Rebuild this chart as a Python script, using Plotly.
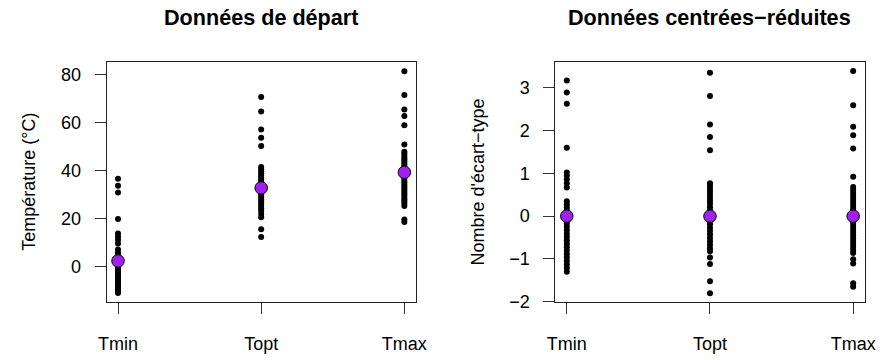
import plotly.graph_objects as go

categories = ["Tmin", "Topt", "Tmax"]

tmin_raw = [36.6, 33.7, 30.9, 19.8, 13.8, 12.5, 11.2, 9.6, 7.2, 5.8, 4.6, 3.6, 2.8, 1.9, 1.0,
            0.2, -0.7, -1.6, -2.4, -3.3, -4.1, -4.9, -5.6, -6.4, -7.1, -7.8, -8.5, -9.1, -9.7,
            -10.3, -11.0]
topt_raw = [70.7, 64.6, 57.1, 53.7, 50.2, 41.5, 40.6, 39.7, 38.8, 37.9, 37.0, 36.1, 35.2, 34.3,
            33.4, 32.5, 31.6, 30.7, 29.8, 28.9, 28.0, 27.1, 26.2, 25.3, 24.2, 23.3, 21.9, 20.6,
            15.6, 12.4]
tmax_raw = [81.4, 71.5, 65.4, 62.7, 58.9, 50.9, 47.9, 47.0, 46.1, 45.2, 44.3, 43.4, 42.5, 41.6,
            40.7, 39.8, 38.9, 38.0, 37.1, 36.2, 35.3, 34.4, 33.5, 32.6, 31.7, 30.8, 29.9, 29.0,
            28.1, 27.2, 26.3, 25.3, 19.6, 18.6]
means_raw = [2.4, 32.8, 39.3]

tmin_z = [3.17, 2.89, 2.63, 1.60, 1.02, 0.95, 0.86, 0.77, 0.67, 0.35, 0.28, 0.21, 0.14, 0.07,
          -0.03, -0.10, -0.17, -0.25, -0.33, -0.41, -0.49, -0.57, -0.65, -0.73, -0.81, -0.89,
          -0.97, -1.05, -1.13, -1.21, -1.30]
topt_z = [3.35, 2.81, 2.14, 1.85, 1.54, 0.77, 0.71, 0.64, 0.57, 0.50, 0.43, 0.36, 0.29, 0.21,
          0.13, 0.05, -0.03, -0.11, -0.19, -0.27, -0.35, -0.43, -0.51, -0.59, -0.67, -0.75,
          -0.82, -0.97, -1.12, -1.52, -1.80]
tmax_z = [3.39, 2.59, 2.09, 1.89, 1.58, 0.92, 0.68, 0.61, 0.54, 0.47, 0.40, 0.33, 0.26, 0.19,
          0.12, 0.05, -0.02, -0.09, -0.16, -0.23, -0.30, -0.37, -0.44, -0.51, -0.58, -0.65,
          -0.72, -0.79, -0.86, -1.01, -1.11, -1.57, -1.65]
means_z = [0.0, 0.0, 0.0]

left_ticks = [0, 20, 40, 60, 80]
right_ticks = [-2, -1, 0, 1, 2, 3]

titles = ["Données de départ", "Données centrées\u2212réduites"]
ylabels = ["Température (°C)", "Nombre d'écart\u2212type"]

FONT = "Liberation Sans, Arial, Helvetica, sans-serif"
PURPLE = "#A020F0"

fig = go.Figure()

def add_panel(series, means, xa, ya):
    for cat, vals in zip(categories, series):
        fig.add_trace(go.Scatter(
            x=[cat] * len(vals), y=vals, mode="markers", xaxis=xa, yaxis=ya,
            marker=dict(color="black", size=6, line=dict(width=0)),
            showlegend=False, hoverinfo="y"))
    fig.add_trace(go.Scatter(
        x=categories, y=means, mode="markers", xaxis=xa, yaxis=ya,
        marker=dict(color=PURPLE, size=12.5, line=dict(color="black", width=1)),
        showlegend=False, hoverinfo="y"))

add_panel([tmin_raw, topt_raw, tmax_raw], means_raw, "x", "y")
add_panel([tmin_z, topt_z, tmax_z], means_z, "x2", "y2")

ydom = [1 - 310.7 / 360, 1 - 64 / 360]
xdom1 = [100.7 / 890, 416.7 / 890]
xdom2 = [559.3 / 890, 875.3 / 890]

axis_common = dict(showgrid=False, zeroline=False, showline=True, linecolor="#222222",
                   linewidth=1, mirror=True, ticks="outside", ticklen=11, tickwidth=1,
                   tickcolor="#333333", tickfont=dict(family=FONT, size=18, color="black"))

fig.update_layout(
    width=890, height=360, autosize=False,
    margin=dict(l=0, r=0, t=0, b=0),
    paper_bgcolor="white", plot_bgcolor="white",
    font=dict(family=FONT, size=18, color="black"),
    xaxis=dict(domain=xdom1, type="category", categoryorder="array", categoryarray=categories,
               range=[-0.08, 2.08], anchor="y", ticklabelstandoff=14, **axis_common),
    yaxis=dict(domain=ydom, range=[-14.74, 85.14], tickvals=left_ticks, anchor="x",
               ticklabelstandoff=10, **axis_common),
    xaxis2=dict(domain=xdom2, type="category", categoryorder="array", categoryarray=categories,
                range=[-0.08, 2.08], anchor="y2", ticklabelstandoff=14, **axis_common),
    yaxis2=dict(domain=ydom, range=[-2.009, 3.598], tickvals=right_ticks, anchor="x2",
                ticklabelstandoff=10, **axis_common),
)

ymid = (ydom[0] + ydom[1]) / 2
anns = []
for xc, t in zip([258.7 / 890, 717.3 / 890], titles):
    anns.append(dict(text="<b>" + t + "</b>", x=xc, y=1 - 18 / 360, xref="paper", yref="paper",
                     xanchor="center", yanchor="middle", showarrow=False,
                     font=dict(family=FONT, size=21.6, color="black")))
for xc, t in zip([22 / 890, 480.6 / 890], ylabels):
    anns.append(dict(text=t, x=xc, y=ymid, xref="paper", yref="paper", textangle=-90,
                     xanchor="center", yanchor="middle", showarrow=False,
                     font=dict(family=FONT, size=18, color="black")))
fig.update_layout(annotations=anns)

fig.write_html("out.html")
